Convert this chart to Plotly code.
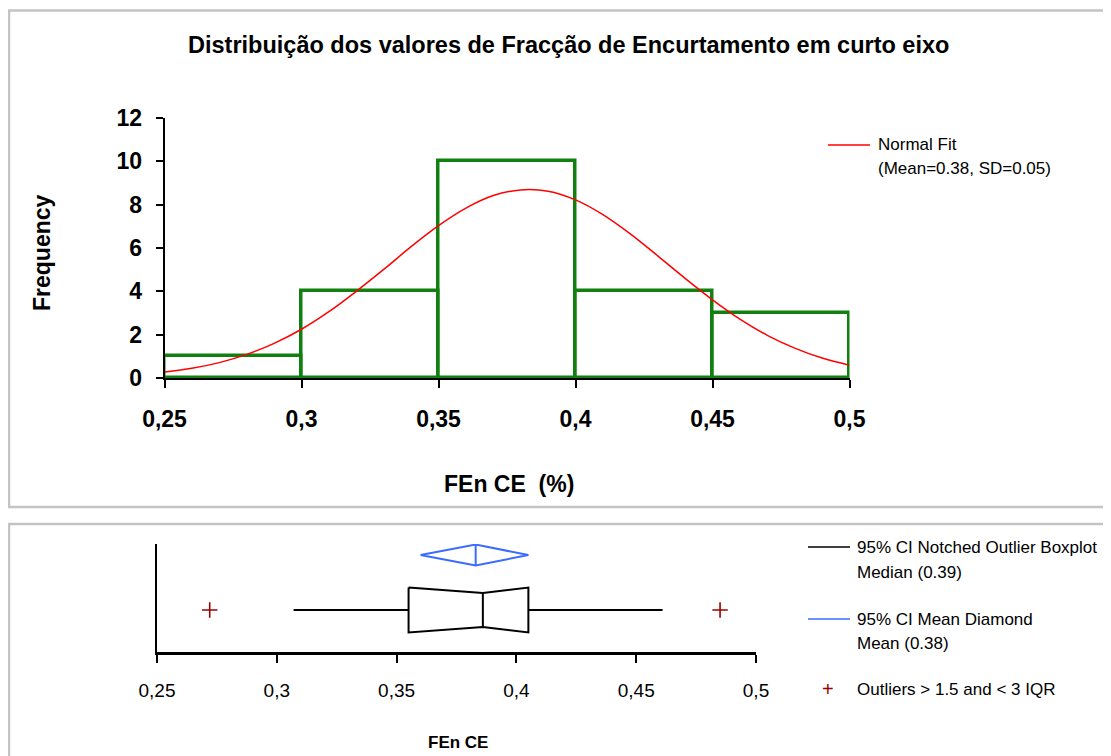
import plotly.graph_objects as go

# ---------------- data ----------------
bin_edges = [0.25, 0.30, 0.35, 0.40, 0.45, 0.50]
bin_counts = [1, 4, 10, 4, 3]

fit_x = [0.25, 0.26, 0.27, 0.28, 0.29, 0.30, 0.31, 0.32, 0.33, 0.34, 0.35, 0.36, 0.37,
         0.38, 0.39, 0.40, 0.41, 0.42, 0.43, 0.44, 0.45, 0.46, 0.47, 0.48, 0.49, 0.50]
fit_y = [0.28, 0.45, 0.71, 1.09, 1.60, 2.25, 3.06, 4.00, 5.01, 6.06, 7.03, 7.84, 8.42,
         8.68, 8.62, 8.22, 7.54, 6.65, 5.64, 4.60, 3.61, 2.72, 1.97, 1.38, 0.92, 0.59]

x_ticks = [0.25, 0.30, 0.35, 0.40, 0.45, 0.50]
x_ticktext = ["0,25", "0,3", "0,35", "0,4", "0,45", "0,5"]
y_ticks = [0, 2, 4, 6, 8, 10, 12]

whisker_low = 0.307
q1 = 0.355
median = 0.386
q3 = 0.405
whisker_high = 0.461
outliers = [0.272, 0.485]
mean = 0.383
mean_ci = [0.360, 0.405]

title_text = "Distribuição dos valores de Fracção de Encurtamento em curto eixo"
legend_top = ["Normal Fit", "(Mean=0.38, SD=0.05)"]
legend_box = ["95% CI Notched Outlier Boxplot", "Median (0.39)",
              "95% CI Mean Diamond", "Mean (0.38)",
              "Outliers > 1.5 and < 3 IQR"]

# ---------------- layout helpers ----------------
# the page body has an 8px margin, so the figure is 8px smaller and offset
OFF = 8
W, H = 1111 - OFF, 756 - OFF
FONT = "Arial, Liberation Sans, sans-serif"
GREEN = "#118011"
RED = "#ff0000"
BLUE = "#3a6bff"
DARKRED = "#990000"
GREY = "#c4c4c4"


def px(x):
    return (x - OFF) / W


def py(y):
    return 1 - (y - OFF) / H


fig = go.Figure()

centers = [(bin_edges[i] + bin_edges[i + 1]) / 2 for i in range(len(bin_counts))]
widths = [bin_edges[i + 1] - bin_edges[i] for i in range(len(bin_counts))]
fig.add_trace(go.Bar(x=centers, y=bin_counts, width=widths,
                     marker=dict(color="rgba(0,0,0,0)", line=dict(color=GREEN, width=3.5)),
                     cliponaxis=False, xaxis="x", yaxis="y", showlegend=False))
fig.add_trace(go.Scatter(x=fit_x, y=fit_y, mode="lines", line=dict(color=RED, width=1.5, shape="spline"),
                         xaxis="x", yaxis="y", showlegend=False, cliponaxis=False))

# ---- box plot panel (y in [0,1]) ----
bc, bh, nh = 0.389, 0.208, 0.157   # box centre, half height, notch half height
dc, dh = 0.898, 0.097              # diamond centre, half height
fig.add_trace(go.Scatter(
    x=[q1, median, q3, q3, median, q1, q1],
    y=[bc + bh, bc + nh, bc + bh, bc - bh, bc - nh, bc - bh, bc + bh],
    mode="lines", line=dict(color="black", width=2), xaxis="x2", yaxis="y2",
    showlegend=False, cliponaxis=False))
fig.add_trace(go.Scatter(x=[median, median], y=[bc + nh, bc - nh], mode="lines",
                         line=dict(color="black", width=2), xaxis="x2", yaxis="y2", showlegend=False))
fig.add_trace(go.Scatter(x=[whisker_low, q1, None, q3, whisker_high], y=[bc, bc, None, bc, bc],
                         mode="lines", line=dict(color="black", width=2), xaxis="x2", yaxis="y2",
                         showlegend=False))
fig.add_trace(go.Scatter(
    x=[mean_ci[0], mean, mean_ci[1], mean, mean_ci[0], None, mean, mean],
    y=[dc, dc + dh, dc, dc - dh, dc, None, dc + dh, dc - dh],
    mode="lines", line=dict(color=BLUE, width=2), xaxis="x2", yaxis="y2",
    showlegend=False, cliponaxis=False))
fig.add_trace(go.Scatter(x=outliers, y=[bc] * len(outliers), mode="markers",
                         marker=dict(symbol="cross-thin", size=11, line=dict(color=DARKRED, width=1.6)),
                         xaxis="x2", yaxis="y2", showlegend=False, cliponaxis=False))

shapes = [
    dict(type="rect", xref="paper", yref="paper", x0=px(9), x1=px(1125), y0=py(10.5), y1=py(507),
         line=dict(color=GREY, width=2.5), fillcolor="rgba(0,0,0,0)", layer="below"),
    dict(type="rect", xref="paper", yref="paper", x0=px(9), x1=px(1125), y0=py(524), y1=py(770),
         line=dict(color=GREY, width=2.5), fillcolor="rgba(0,0,0,0)", layer="below"),
    dict(type="line", xref="paper", yref="paper", x0=px(828), x1=px(870), y0=py(145), y1=py(145),
         line=dict(color=RED, width=1.5)),
    dict(type="line", xref="paper", yref="paper", x0=px(808), x1=px(850), y0=py(547), y1=py(547),
         line=dict(color="black", width=1.5)),
    dict(type="line", xref="paper", yref="paper", x0=px(808), x1=px(850), y0=py(619), y1=py(619),
         line=dict(color=BLUE, width=1.5)),
]

LEG = 17
annotations = [
    dict(text="<b>" + title_text + "</b>", xref="paper", yref="paper", x=px(568), y=py(45),
         showarrow=False, font=dict(size=23.5, color="black", family=FONT), xanchor="center", yanchor="middle"),
    dict(text=legend_top[0], xref="paper", yref="paper", x=px(876), y=py(145), showarrow=False,
         font=dict(size=LEG, color="black", family=FONT), xanchor="left", yanchor="middle"),
    dict(text=legend_top[1], xref="paper", yref="paper", x=px(876), y=py(169), showarrow=False,
         font=dict(size=LEG, color="black", family=FONT), xanchor="left", yanchor="middle"),
    dict(text=legend_box[0], xref="paper", yref="paper", x=px(855), y=py(547), showarrow=False,
         font=dict(size=LEG, color="black", family=FONT), xanchor="left", yanchor="middle"),
    dict(text=legend_box[1], xref="paper", yref="paper", x=px(855), y=py(572), showarrow=False,
         font=dict(size=LEG, color="black", family=FONT), xanchor="left", yanchor="middle"),
    dict(text=legend_box[2], xref="paper", yref="paper", x=px(855), y=py(619), showarrow=False,
         font=dict(size=LEG, color="black", family=FONT), xanchor="left", yanchor="middle"),
    dict(text=legend_box[3], xref="paper", yref="paper", x=px(855), y=py(643), showarrow=False,
         font=dict(size=LEG, color="black", family=FONT), xanchor="left", yanchor="middle"),
    dict(text="+", xref="paper", yref="paper", x=px(828), y=py(689), showarrow=False,
         font=dict(size=20, color=DARKRED, family=FONT), xanchor="center", yanchor="middle"),
    dict(text=legend_box[4], xref="paper", yref="paper", x=px(855), y=py(689), showarrow=False,
         font=dict(size=LEG, color="black", family=FONT), xanchor="left", yanchor="middle"),
    dict(text="<b>Frequency</b>", xref="paper", yref="paper", x=px(42), y=py(253), showarrow=False,
         textangle=-90, font=dict(size=23, color="black", family=FONT), xanchor="center", yanchor="middle"),
    dict(text="<b>FEn CE  (%)</b>", xref="paper", yref="paper", x=px(509), y=py(484), showarrow=False,
         font=dict(size=23, color="black", family=FONT), xanchor="center", yanchor="middle"),
    dict(text="<b>FEn CE</b>", xref="paper", yref="paper", x=px(458), y=py(742), showarrow=False,
         font=dict(size=17, color="black", family=FONT), xanchor="center", yanchor="middle"),
]

fig.update_layout(
    width=W, height=H, margin=dict(l=0, r=0, t=0, b=0, pad=0, autoexpand=False),
    autosize=False,
    paper_bgcolor="white", plot_bgcolor="rgba(0,0,0,0)",
    font=dict(family=FONT, color="black"),
    bargap=0, showlegend=False,
    shapes=shapes, annotations=annotations,
    xaxis=dict(domain=[px(164.5), px(849.5)], range=[0.25, 0.5], anchor="y",
               tickvals=x_ticks, ticktext=["<b>" + t + "</b>" for t in x_ticktext],
               tickfont=dict(size=23, family=FONT), ticks="outside", ticklen=8, tickwidth=1.5,
               tickcolor="black", showline=True, linecolor="black", linewidth=1.5,
               showgrid=False, zeroline=False, ticklabelstandoff=12, fixedrange=True, automargin=False),
    yaxis=dict(domain=[py(378), py(118)], range=[0, 12], anchor="x",
               tickvals=y_ticks, ticktext=["<b>%d</b>" % v for v in y_ticks],
               tickfont=dict(size=23, family=FONT), ticks="outside", ticklen=7, tickwidth=1.5,
               tickcolor="black", showline=True, linecolor="black", linewidth=1.5,
               showgrid=False, zeroline=False, ticklabelstandoff=9, fixedrange=True, automargin=False),
    xaxis2=dict(domain=[px(157), px(756)], range=[0.25, 0.5], anchor="y2",
                tickvals=x_ticks, ticktext=x_ticktext,
                tickfont=dict(size=19, family=FONT), ticks="outside", ticklen=8, tickwidth=1.5,
                tickcolor="black", showline=True, linecolor="black", linewidth=2.5,
                showgrid=False, zeroline=False, ticklabelstandoff=11, fixedrange=True, automargin=False),
    yaxis2=dict(domain=[py(652), py(544)], range=[0, 1], anchor="x2",
                showticklabels=False, ticks="", showline=True, linecolor="black", linewidth=1.5,
                showgrid=False, zeroline=False, fixedrange=True, automargin=False),
)

fig.write_html("out.html")
